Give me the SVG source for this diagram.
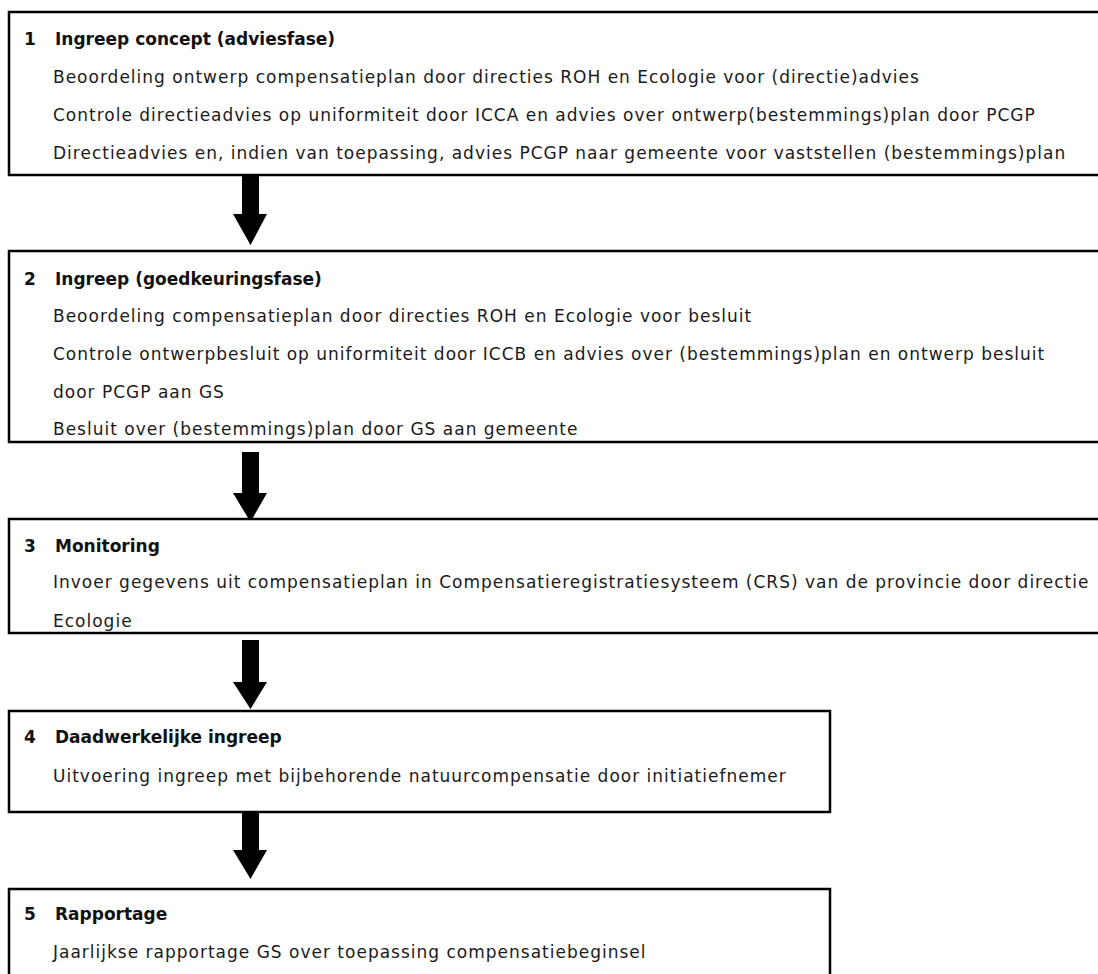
<svg xmlns="http://www.w3.org/2000/svg" width="1098" height="974" viewBox="0 0 1098 974">
<style>
.box{fill:#fff;stroke:#000;stroke-width:2.5}
.h{font-family:"DejaVu Sans",Verdana,sans-serif;font-size:17px;font-weight:bold;fill:#111}
.t{font-family:"DejaVu Sans",Verdana,sans-serif;font-size:17px;letter-spacing:1px;fill:#1a1a1a}
.arrow{fill:#000}
</style>
<rect width="1098" height="974" fill="#fff"/>
<g id="connectors">
<polygon class="arrow" points="242,176 259,176 259,214 267,214 250.5,245 233,214 242,214"/>
<polygon class="arrow" points="242,452 259,452 259,493 267,493 250.5,522 233,493 242,493"/>
<polygon class="arrow" points="242,640 259,640 259,682 267,682 250.5,709 233,682 242,682"/>
<polygon class="arrow" points="242,808 259,808 259,850 267,850 250.5,879 233,850 242,850"/>
</g>
<g id="node1">
<rect class="box" x="9" y="12" width="1110" height="163"/>
<text class="h" x="24" y="45">1</text>
<text class="h" x="55" y="45">Ingreep concept (adviesfase)</text>
<text class="t" x="53" y="83">Beoordeling ontwerp compensatieplan door directies ROH en Ecologie voor (directie)advies</text>
<text class="t" x="53" y="121">Controle directieadvies op uniformiteit door ICCA en advies over ontwerp(bestemmings)plan door PCGP</text>
<text class="t" x="53" y="159">Directieadvies en, indien van toepassing, advies PCGP naar gemeente voor vaststellen (bestemmings)plan</text>
</g>
<g id="node2">
<rect class="box" x="9" y="251" width="1110" height="191"/>
<text class="h" x="24" y="285">2</text>
<text class="h" x="55" y="285">Ingreep (goedkeuringsfase)</text>
<text class="t" x="53" y="322">Beoordeling compensatieplan door directies ROH en Ecologie voor besluit</text>
<text class="t" x="53" y="360">Controle ontwerpbesluit op uniformiteit door ICCB en advies over (bestemmings)plan en ontwerp besluit</text>
<text class="t" x="53" y="398">door PCGP aan GS</text>
<text class="t" x="53" y="435">Besluit over (bestemmings)plan door GS aan gemeente</text>
</g>
<g id="node3">
<rect class="box" x="9" y="519" width="1110" height="114"/>
<text class="h" x="24" y="552">3</text>
<text class="h" x="55" y="552">Monitoring</text>
<text class="t" x="53" y="588">Invoer gegevens uit compensatieplan in Compensatieregistratiesysteem (CRS) van de provincie door directie</text>
<text class="t" x="53" y="627">Ecologie</text>
</g>
<g id="node4">
<rect class="box" x="9" y="711" width="821" height="101"/>
<text class="h" x="24" y="743">4</text>
<text class="h" x="55" y="743">Daadwerkelijke ingreep</text>
<text class="t" x="53" y="782">Uitvoering ingreep met bijbehorende natuurcompensatie door initiatiefnemer</text>
</g>
<g id="node5">
<rect class="box" x="9" y="889" width="821" height="110"/>
<text class="h" x="24" y="920">5</text>
<text class="h" x="55" y="920">Rapportage</text>
<text class="t" x="53" y="958">Jaarlijkse rapportage GS over toepassing compensatiebeginsel</text>
</g>
</svg>
